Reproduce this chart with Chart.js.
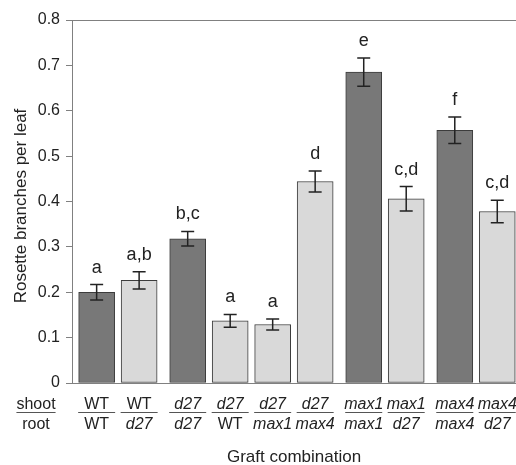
<!DOCTYPE html>
<html>
<head>
<meta charset="utf-8">
<script src="https://cdn.jsdelivr.net/npm/chart.js@4.4.1/dist/chart.umd.min.js"></script>
<style>
  html, body { margin: 0; padding: 0; background: #fff; }
  #wrap { width: 516px; height: 465px; }
</style>
</head>
<body>
<div id="wrap"><canvas id="graft" width="516" height="465"></canvas></div>
<script>
// graft combinations (shoot over root), one bar each
const shoots = ['WT', 'WT', 'd27', 'd27', 'd27', 'd27', 'max1', 'max1', 'max4', 'max4'];
const roots = ['WT', 'd27', 'd27', 'WT', 'max1', 'max4', 'max1', 'd27', 'max4', 'd27'];
const groups = [0, 0, 1, 1, 1, 1, 2, 2, 3, 3];
const branchesPerLeaf = [0.200, 0.226, 0.318, 0.137, 0.129, 0.444, 0.685, 0.406, 0.557, 0.378];
const stdErrors = [0.017, 0.019, 0.016, 0.014, 0.012, 0.023, 0.031, 0.027, 0.029, 0.025];
const sigLetters = ['a', 'a,b', 'b,c', 'a', 'a', 'd', 'e', 'c,d', 'f', 'c,d'];
const yTicks = [0, 0.1, 0.2, 0.3, 0.4, 0.5, 0.6, 0.7, 0.8];

const GROUP_GAP = 0.143;      // extra space between shoot genotype groups, in bar slots
const FONT = "'Liberation Sans', Arial, Helvetica, sans-serif";
const INK = '#222';
const AXIS = '#808080';

const points = branchesPerLeaf.map((v, i) => ({ x: i + groups[i] * GROUP_GAP, y: v }));
// self-grafts are dark, the rest light
const fills = shoots.map((s, i) => s === roots[i] ? '#787878' : '#d9d9d9');

const annotate = {
  id: 'annotate',
  afterDatasetsDraw(chart) {
    const { ctx, scales: { y }, chartArea } = chart;
    const bars = chart.getDatasetMeta(0).data;
    ctx.save();

    // frame line at the top of the plot
    ctx.strokeStyle = AXIS;
    ctx.lineWidth = 1;
    ctx.beginPath();
    ctx.moveTo(chartArea.left, chartArea.top + 0.5);
    ctx.lineTo(chartArea.right, chartArea.top + 0.5);
    ctx.stroke();

    // error bars + significance letters
    ctx.strokeStyle = INK;
    ctx.lineWidth = 1.5;
    ctx.fillStyle = INK;
    ctx.textAlign = 'center';
    ctx.textBaseline = 'alphabetic';
    ctx.font = `18px ${FONT}`;
    bars.forEach((bar, i) => {
      const hi = y.getPixelForValue(branchesPerLeaf[i] + stdErrors[i]);
      const lo = y.getPixelForValue(branchesPerLeaf[i] - stdErrors[i]);
      ctx.beginPath();
      ctx.moveTo(bar.x, hi); ctx.lineTo(bar.x, lo);
      ctx.moveTo(bar.x - 6.5, hi); ctx.lineTo(bar.x + 6.5, hi);
      ctx.moveTo(bar.x - 6.5, lo); ctx.lineTo(bar.x + 6.5, lo);
      ctx.stroke();
      ctx.fillText(sigLetters[i], bar.x, hi - 12);
    });
    ctx.restore();
  },
  afterDraw(chart) {
    const { ctx, chartArea } = chart;
    const bars = chart.getDatasetMeta(0).data;
    const topBase = 409, ruleY = 412.5, botBase = 429;
    ctx.save();
    ctx.fillStyle = INK;
    ctx.strokeStyle = '#555';
    ctx.lineWidth = 1;
    ctx.textAlign = 'center';
    ctx.textBaseline = 'alphabetic';

    // row headers
    ctx.font = `16px ${FONT}`;
    ctx.fillText('shoot', 36, topBase);
    ctx.fillText('root', 36, botBase);
    const sw = ctx.measureText('shoot').width;
    ctx.beginPath();
    ctx.moveTo(36 - sw / 2, ruleY); ctx.lineTo(36 + sw / 2, ruleY);
    ctx.stroke();

    bars.forEach((bar, i) => {
      ctx.font = `${shoots[i] === 'WT' ? '' : 'italic '}16px ${FONT}`;
      ctx.fillText(shoots[i], bar.x, topBase);
      ctx.font = `${roots[i] === 'WT' ? '' : 'italic '}16px ${FONT}`;
      ctx.fillText(roots[i], bar.x, botBase);
      ctx.beginPath();
      ctx.moveTo(bar.x - 18.5, ruleY); ctx.lineTo(bar.x + 18.5, ruleY);
      ctx.stroke();
    });

    // axis titles
    ctx.font = `17px ${FONT}`;
    ctx.fillText('Graft combination', (chartArea.left + chartArea.right) / 2, 462);
    ctx.translate(26, 206);
    ctx.rotate(-Math.PI / 2);
    ctx.fillText('Rosette branches per leaf', 0, 0);
    ctx.restore();
  }
};

new Chart(document.getElementById('graft'), {
  type: 'bar',
  data: {
    datasets: [{
      data: points,
      backgroundColor: fills,
      borderColor: '#3c3c3c',
      borderWidth: 1,
      borderSkipped: false,
      barThickness: 36
    }]
  },
  options: {
    responsive: false,
    devicePixelRatio: 1,
    animation: false,
    layout: { padding: { top: 20, right: 0, bottom: 0, left: 0 } },
    plugins: { legend: { display: false }, tooltip: { enabled: false } },
    scales: {
      x: {
        type: 'linear',
        min: -0.58,
        max: 9.87,
        offset: false,
        ticks: { display: false },
        grid: { display: false, offset: false },
        border: { display: true, color: AXIS, width: 1 },
        afterFit: (s) => { s.height = 82; }
      },
      y: {
        min: 0,
        max: 0.8,
        afterBuildTicks: (s) => { s.ticks = yTicks.map(v => ({ value: v })); },
        ticks: {
          color: INK,
          padding: 6,
          font: { family: FONT, size: 16 },
          callback: (v) => v === 0 ? '0' : v.toFixed(1)
        },
        grid: { drawOnChartArea: false, drawTicks: true, tickLength: 6, color: AXIS },
        border: { display: true, color: AXIS, width: 1 },
        afterFit: (s) => { s.width = 72; }
      }
    }
  },
  plugins: [annotate]
});
</script>
</body>
</html>
